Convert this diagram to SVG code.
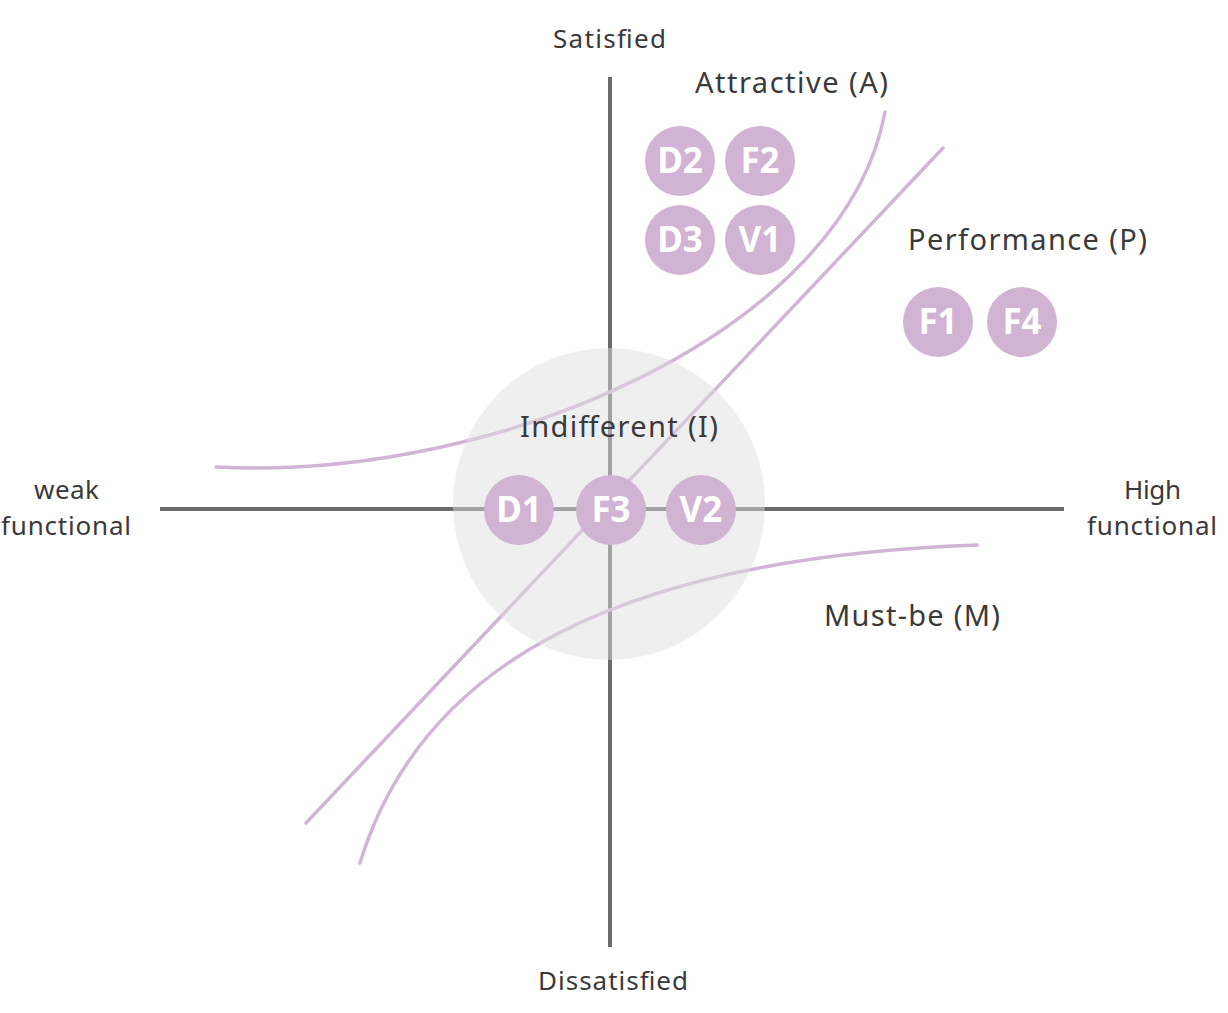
<svg xmlns="http://www.w3.org/2000/svg" width="1228" height="1013" viewBox="0 0 1228 1013">
<style>
.axis{stroke:#6b6b6b;stroke-width:4;fill:none}
.curve{stroke:#d2b4d6;stroke-width:3.5;fill:none;stroke-linecap:round}
.lbl{font-family:"Noto Sans","Liberation Sans",sans-serif;fill:#3a3a3a}
.big{font-size:29px}
.small{font-size:26px}
.badge circle{fill:#d1b3d3}
.badge text{font-family:"Noto Sans","Liberation Sans",sans-serif;font-weight:bold;font-size:35px;fill:#ffffff;text-anchor:middle}
</style>
<rect width="1228" height="1013" fill="#ffffff"/>
<g id="connectors">
<line class="axis" x1="160" y1="509" x2="1064" y2="509"/>
<line class="axis" x1="610" y1="77" x2="610" y2="947"/>
<line class="curve" x1="306" y1="823" x2="943" y2="148"/>
<path class="curve" d="M216,467 C500,482 845,330 885,112"/>
<path class="curve" d="M360,863 C410,700 560,560 977,545"/>
</g>
<g id="indifferent-zone">
<circle cx="609" cy="504" r="156" fill="#dedede" fill-opacity="0.48"/>
</g>
<g id="labels">
<text class="lbl small" x="553" y="48" textLength="113">Satisfied</text>
<text class="lbl small" x="538" y="990" textLength="150">Dissatisfied</text>
<text class="lbl small" x="34" y="499" textLength="65">weak</text>
<text class="lbl small" x="1" y="535" textLength="130">functional</text>
<text class="lbl small" x="1124" y="499" textLength="57">High</text>
<text class="lbl small" x="1087" y="535" textLength="130">functional</text>
<text class="lbl big" x="695" y="93" textLength="193">Attractive (A)</text>
<text class="lbl big" x="908" y="250" textLength="239">Performance (P)</text>
<text class="lbl big" x="520" y="437" textLength="198">Indifferent (I)</text>
<text class="lbl big" x="824" y="626" textLength="176">Must-be (M)</text>
</g>
<g id="D2" class="badge"><circle cx="680" cy="161" r="35"/><text x="680" y="173">D2</text></g>
<g id="F2" class="badge"><circle cx="760" cy="161" r="35"/><text x="760" y="173">F2</text></g>
<g id="D3" class="badge"><circle cx="680" cy="240" r="35"/><text x="680" y="252">D3</text></g>
<g id="V1" class="badge"><circle cx="760" cy="240" r="35"/><text x="760" y="252">V1</text></g>
<g id="F1" class="badge"><circle cx="938" cy="322" r="35"/><text x="938" y="334">F1</text></g>
<g id="F4" class="badge"><circle cx="1022" cy="322" r="35"/><text x="1022" y="334">F4</text></g>
<g id="D1" class="badge"><circle cx="519" cy="510" r="35"/><text x="519" y="522">D1</text></g>
<g id="F3" class="badge"><circle cx="611" cy="510" r="35"/><text x="611" y="522">F3</text></g>
<g id="V2" class="badge"><circle cx="701" cy="510" r="35"/><text x="701" y="522">V2</text></g>
</svg>
